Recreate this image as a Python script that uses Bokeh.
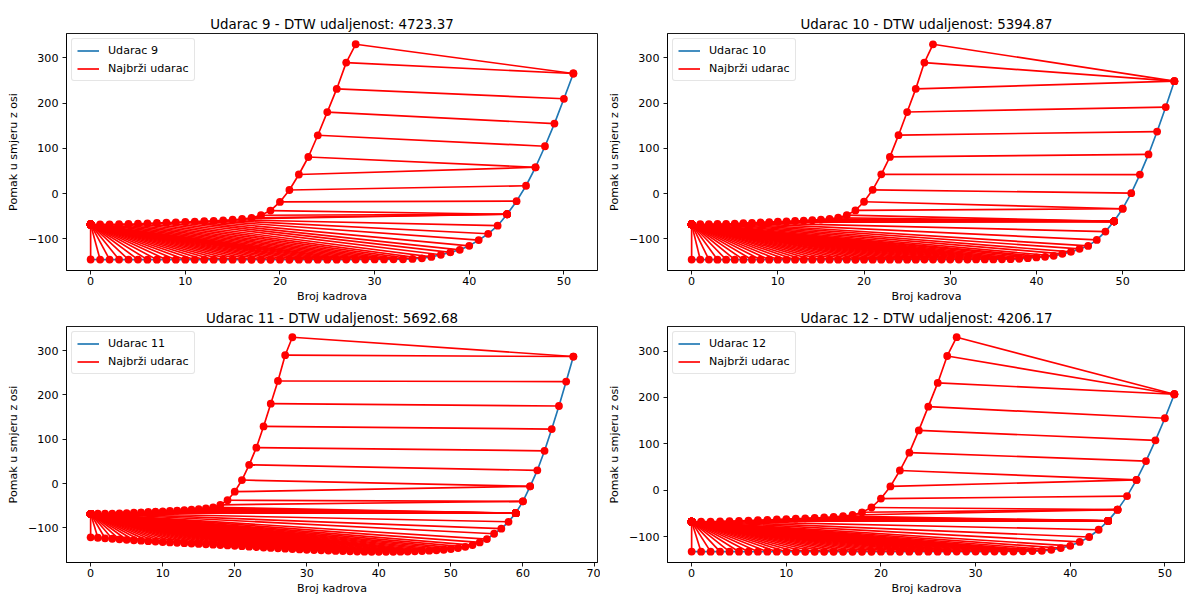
import numpy as np
from bokeh.plotting import figure
from bokeh.models import Range1d, FixedTicker, SingleIntervalTicker, CustomJSTickFormatter
from bokeh.layouts import row, column
from bokeh.embed import file_html
from bokeh.resources import INLINE

# ---------------- data ----------------
FASTEST = [-68.0, -67.9, -67.7, -67.4, -67.0, -66.4, -65.6, -64.8, -64.0, -63.2,
           -62.4, -61.6, -60.8, -59.9, -58.9, -57.6, -55.9, -53.5, -47.7, -37.4,
           -18.2, 8.1, 42.4, 81.0, 129.0, 180.2, 231.4, 289.5, 330.0]

UDARAC_9 = [-145.4, -145.5, -145.5, -145.6, -145.6, -145.6, -145.7, -145.7, -145.7, -145.8,
            -145.8, -145.8, -145.8, -145.8, -145.9, -145.9, -145.9, -145.9, -145.9, -145.9,
            -145.9, -145.9, -145.8, -145.8, -145.8, -145.7, -145.7, -145.6, -145.5, -145.4,
            -145.3, -145.2, -145.0, -144.8, -144.1, -142.7, -139.6, -135.0, -129.7, -124.0,
            -115.3, -102.5, -88.6, -70.7, -45.5, -16.5, 17.5, 58.3, 104.8, 154.8,
            209.6, 265.4]

UDARAC_10 = [-146.0, -146.1, -146.1, -146.2, -146.2, -146.2, -146.3, -146.3, -146.3, -146.3,
             -146.4, -146.4, -146.4, -146.4, -146.4, -146.4, -146.4, -146.4, -146.4, -146.4,
             -146.3, -146.3, -146.3, -146.3, -146.2, -146.2, -146.2, -146.1, -146.1, -146.0,
             -146.0, -145.9, -145.9, -145.8, -145.8, -145.7, -145.4, -145.1, -144.4, -143.0,
             -141.3, -140.0, -137.8, -133.4, -129.0, -122.4, -115.8, -102.6, -84.2, -61.5,
             -33.6, 0.7, 41.8, 86.4, 137.0, 191.2, 248.4]

UDARAC_11 = [-121.0, -122.0, -123.2, -124.3, -125.5, -126.6, -127.6, -128.6, -129.6, -130.6,
             -131.6, -132.5, -133.3, -134.2, -135.1, -136.0, -136.8, -137.6, -138.4, -139.2,
             -140.0, -141.0, -142.0, -143.0, -144.0, -145.0, -145.8, -146.6, -147.4, -148.2,
             -149.0, -149.7, -150.4, -151.0, -151.6, -152.1, -152.6, -153.0, -153.3, -153.5,
             -153.6, -153.6, -153.5, -153.3, -153.0, -152.6, -152.0, -151.2, -150.2, -149.0,
             -147.4, -145.3, -142.5, -138.5, -132.5, -125.0, -113.0, -101.5, -86.0, -66.5,
             -40.0, -6.0, 30.0, 74.0, 123.0, 175.0, 230.0, 286.5]

UDARAC_12 = [-132.5, -132.6, -132.6, -132.7, -132.7, -132.7, -132.8, -132.8, -132.8, -132.8,
             -132.9, -132.9, -132.9, -132.9, -132.9, -132.9, -132.9, -132.9, -132.9, -132.8,
             -132.8, -132.8, -132.8, -132.7, -132.7, -132.7, -132.6, -132.6, -132.5, -132.5,
             -132.4, -132.4, -132.4, -132.3, -132.3, -132.0, -131.5, -130.8, -128.7, -125.0,
             -120.0, -111.6, -101.0, -85.4, -66.2, -42.0, -12.8, 22.2, 62.7, 107.5,
             155.2, 207.0]

STRIKES = [UDARAC_9, UDARAC_10, UDARAC_11, UDARAC_12]
STRIKE_IDS = [9, 10, 11, 12]
DTW_DISTANCES = ["4723.37", "5394.87", "5692.68", "4206.17"]
FAST_LABEL = "Najbrži udarac"
X_LABEL = "Broj kadrova"
Y_LABEL = "Pomak u smjeru z osi"
Y_TICKS = [-100, 0, 100, 200, 300]

BLUE = "#1f77b4"
RED = "#ff0000"
FONT = "DejaVu Sans"
FULL_FRAME_W = 531.0  # frame width of a full (uncut) panel in the reference


def dtw_path(a, b):
    a = np.asarray(a, float)
    b = np.asarray(b, float)
    n, m = len(a), len(b)
    D = np.full((n + 1, m + 1), np.inf)
    D[0, 0] = 0.0
    for i in range(1, n + 1):
        for j in range(1, m + 1):
            c = abs(a[i - 1] - b[j - 1])
            D[i, j] = c + min(D[i - 1, j - 1], D[i - 1, j], D[i, j - 1])
    i, j = n, m
    path = []
    while i > 0 and j > 0:
        path.append((i - 1, j - 1))
        opts = [(D[i - 1, j - 1], i - 1, j - 1), (D[i - 1, j], i - 1, j), (D[i, j - 1], i, j - 1)]
        _, i, j = min(opts, key=lambda t: t[0])
    path.reverse()
    return path


def make_panel(series, sid, dist, width, height, b_left, b_right, b_top, b_bottom, t_standoff):
    n = max(len(series), len(FASTEST)) - 1
    x0, x1 = -0.05 * n, 1.05 * n
    frame_w = width - b_left - b_right
    # the reference figure is cut at the window's right edge: keep its scale
    x1 = x0 + (x1 - x0) * min(1.0, frame_w / FULL_FRAME_W)
    allv = list(series) + list(FASTEST)
    lo, hi = min(allv), max(allv)
    pad = 0.05 * (hi - lo)

    p = figure(width=width, height=height, output_backend="svg", toolbar_location=None,
               x_range=Range1d(x0, x1), y_range=Range1d(lo - pad, hi + pad),
               title="Udarac %d - DTW udaljenost: %s" % (sid, dist))
    p.min_border_left = b_left
    p.min_border_right = b_right
    p.min_border_top = b_top
    p.min_border_bottom = b_bottom
    p.background_fill_color = "white"
    p.border_fill_color = "white"
    p.outline_line_color = "black"
    p.outline_line_width = 0.9
    p.grid.visible = False

    p.title.text_font = FONT
    p.title.text_font_size = "13.4px"
    p.title.text_font_style = "normal"
    p.title.text_color = "black"
    p.title.align = "center"
    p.title.standoff = t_standoff

    fmt = CustomJSTickFormatter(code="return (tick < 0 ? '\\u2212' : '') + Math.abs(tick).toFixed(0);")
    for ax in (p.xaxis[0], p.yaxis[0]):
        ax.axis_line_color = "black"
        ax.axis_line_width = 0.9
        ax.major_tick_line_color = "black"
        ax.major_tick_line_width = 0.9
        ax.major_tick_out = 4
        ax.major_tick_in = 0
        ax.minor_tick_out = 0
        ax.minor_tick_in = 0
        ax.major_label_text_font = FONT
        ax.major_label_text_font_size = "11.1px"
        ax.major_label_text_color = "black"
        ax.axis_label_text_font = FONT
        ax.axis_label_text_font_size = "11.1px"
        ax.axis_label_text_font_style = "normal"
        ax.axis_label_text_color = "black"
        ax.formatter = fmt
    p.xaxis[0].major_label_standoff = 2
    p.xaxis[0].axis_label_standoff = 2
    p.yaxis[0].major_label_standoff = 4
    p.yaxis[0].axis_label_standoff = 5
    p.xaxis[0].ticker = SingleIntervalTicker(interval=10, num_minor_ticks=0)
    p.yaxis[0].ticker = FixedTicker(ticks=Y_TICKS)
    p.xaxis[0].axis_label = X_LABEL
    p.yaxis[0].axis_label = Y_LABEL

    xs_a = list(range(len(series)))
    xs_b = list(range(len(FASTEST)))
    p.line(xs_a, series, line_color=BLUE, line_width=1.67, legend_label="Udarac %d" % sid)
    p.line(xs_b, FASTEST, line_color=RED, line_width=1.67, legend_label=FAST_LABEL)

    path = dtw_path(series, FASTEST)
    mxs = [[i, j] for i, j in path]
    mys = [[series[i], FASTEST[j]] for i, j in path]
    p.multi_line(mxs, mys, line_color=RED, line_width=1.67)
    px = [v for pair in mxs for v in pair]
    py = [v for pair in mys for v in pair]
    p.scatter(px, py, size=7.8, fill_color=RED, line_color=RED, line_width=0)

    lg = p.legend[0]
    lg.location = "top_left"
    lg.margin = 5
    lg.padding = 5
    lg.spacing = 5
    lg.label_standoff = 9
    lg.glyph_width = 22
    lg.glyph_height = 13
    lg.label_height = 13
    lg.label_text_font = FONT
    lg.label_text_font_size = "11.1px"
    lg.label_text_color = "black"
    lg.border_line_color = "#cccccc"
    lg.border_line_width = 1
    lg.background_fill_alpha = 0.8
    if "border_radius" in lg.properties():
        lg.border_radius = 3
    return p


# row 1: 306 px tall, row 2: 292 px tall; left column 600 px, right column 585 px
p1 = make_panel(STRIKES[0], STRIKE_IDS[0], DTW_DISTANCES[0], 600, 306, 66, 3, 33, 36, 4)
p2 = make_panel(STRIKES[1], STRIKE_IDS[1], DTW_DISTANCES[1], 585, 306, 67, 0, 33, 36, 4)
p3 = make_panel(STRIKES[2], STRIKE_IDS[2], DTW_DISTANCES[2], 600, 292, 66, 3, 20, 36, 2)
p4 = make_panel(STRIKES[3], STRIKE_IDS[3], DTW_DISTANCES[3], 585, 292, 67, 0, 20, 36, 2)

layout = column(row(p1, p2), row(p3, p4))
open("out.html", "w").write(file_html(layout, INLINE))
